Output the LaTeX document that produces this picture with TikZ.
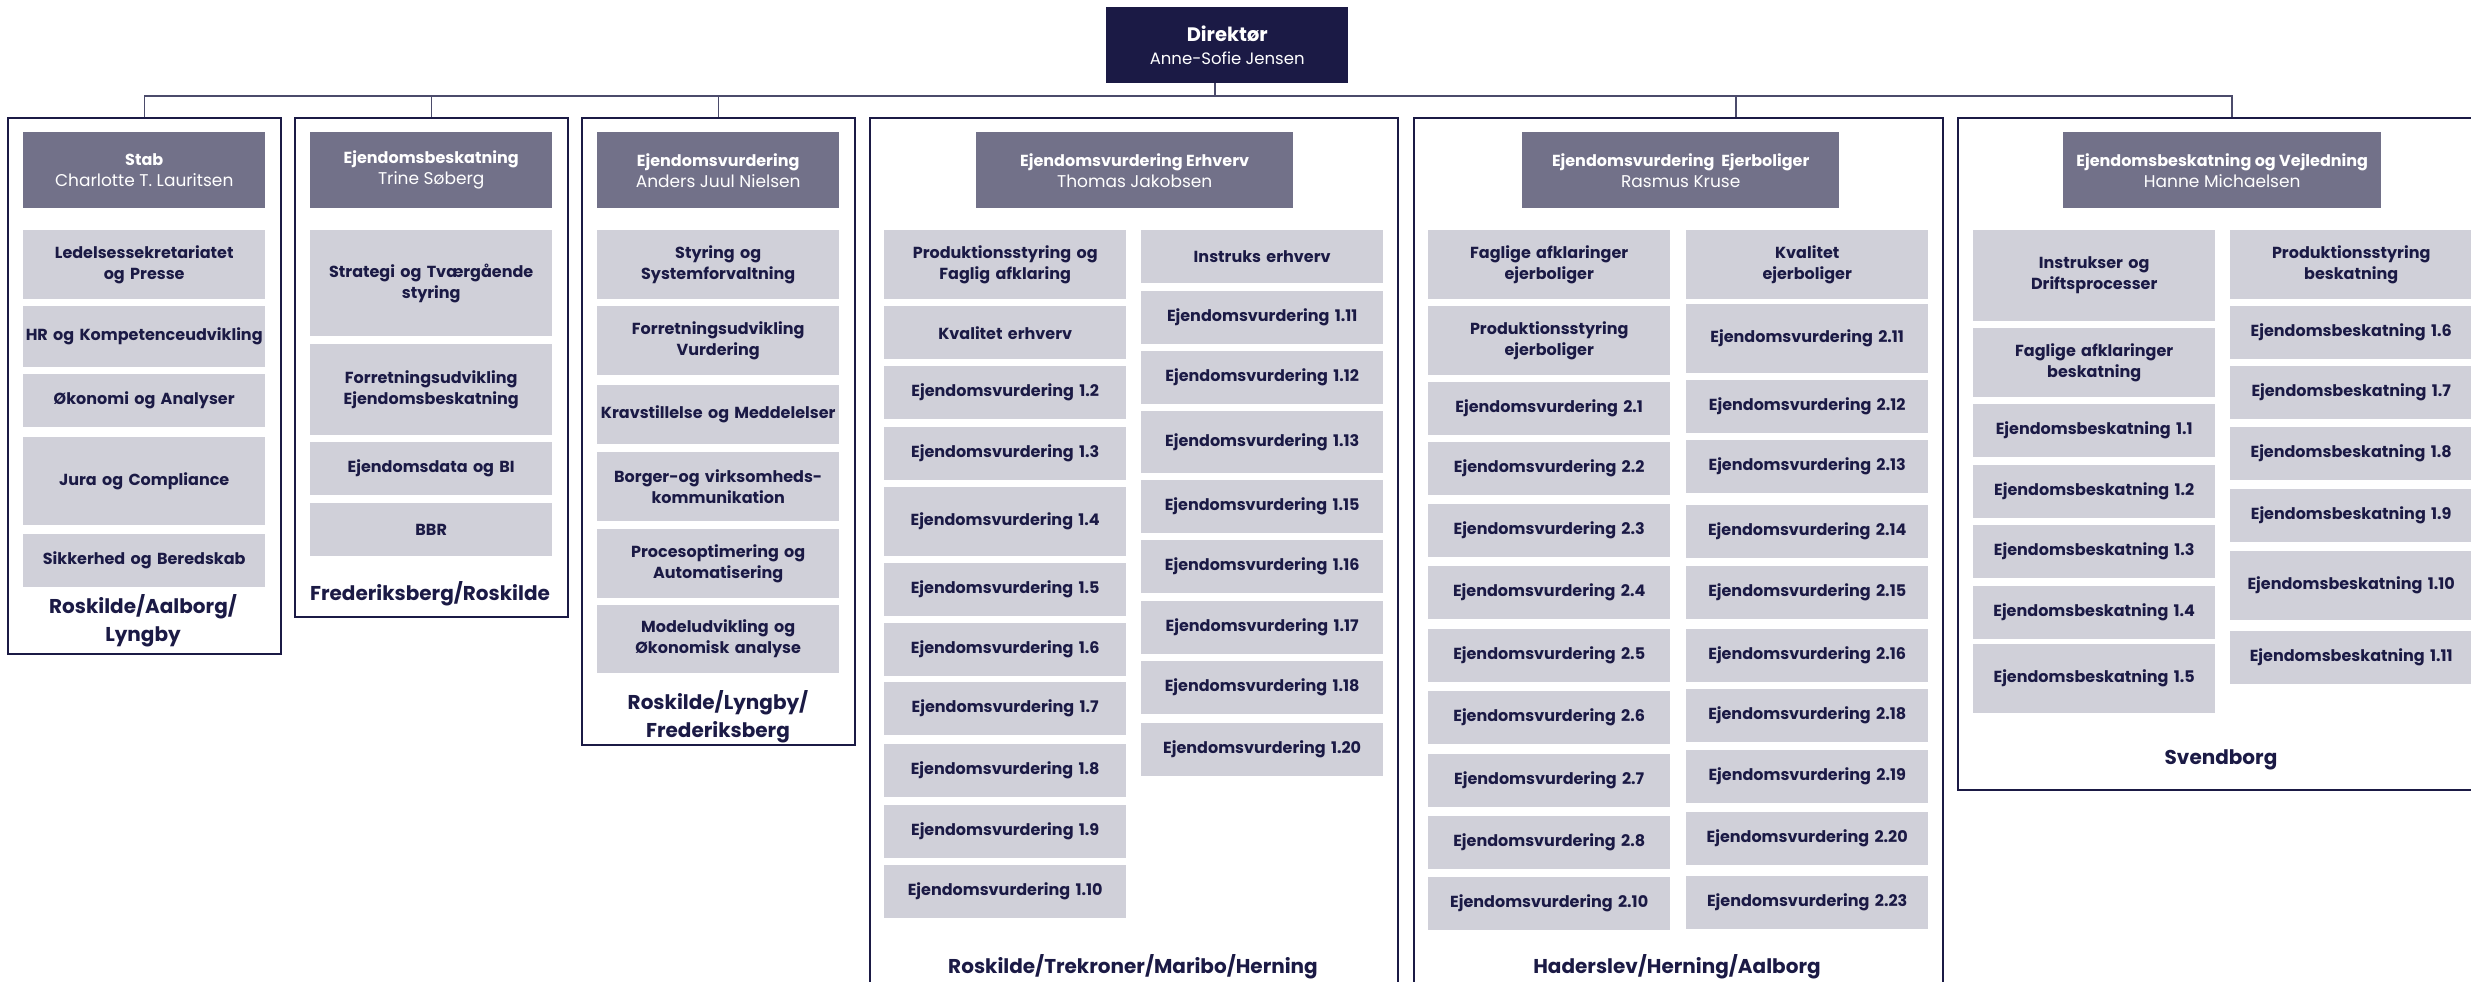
\documentclass[tikz,border=0pt]{standalone}
\usepackage{fontspec}
\setmainfont{Poppins}

\definecolor{navy}{HTML}{1B1A45}
\definecolor{headgray}{HTML}{727189}
\definecolor{itemgray}{HTML}{D0D0D9}
\definecolor{linegray}{HTML}{4B4B6B}

\begin{document}
\begin{tikzpicture}[x=1pt, y=-1pt,
  group/.style={draw=navy, line width=1.5pt, anchor=north west, inner sep=0pt},
  head/.style={fill=headgray, text=white, anchor=north west, minimum height=76pt,
    align=center, inner sep=0pt, font=\fontsize{17}{21}\selectfont},
  headline/.style={font=\bfseries\fontsize{16}{21}\selectfont},
  item/.style={fill=itemgray, text=navy, anchor=north west, text width=242pt,
    inner sep=0pt, align=center, font=\bfseries\fontsize{16}{21}\selectfont},
  place/.style={text=navy, align=center, font=\bfseries\fontsize{20}{28}\selectfont},
  link/.style={draw=linegray, line width=1.5pt}]

  \useasboundingbox (0,0) rectangle (2471,982);
  \clip (0,0) rectangle (2471,982);

  % --- Director ---
  \node[fill=navy, text=white, anchor=north west, minimum width=242pt,
    minimum height=76pt, align=center, inner sep=0pt,
    font=\fontsize{16.5}{23}\selectfont] (dir) at (1106,7)
    {{\bfseries\fontsize{19.5}{24}\selectfont Direktør}\\Anne-Sofie Jensen};

  % --- Group frames ---
  \node[group, minimum width=273pt, minimum height=536pt] (g1) at (7,117) {};
  \node[group, minimum width=273pt, minimum height=499pt] (g2) at (294,117) {};
  \node[group, minimum width=273pt, minimum height=627pt] (g3) at (581,117) {};
  \node[group, minimum width=528pt, minimum height=900pt] (g4) at (869,117) {};
  \node[group, minimum width=529pt, minimum height=900pt] (g5) at (1413,117) {};
  \node[group, minimum width=530pt, minimum height=672pt] (g6) at (1957,117) {};

  % --- Connectors ---
  \coordinate (busR) at (2232,96);
  \coordinate (tapD) at (1215,96);
  \coordinate (tap5) at (1736,96);
  \draw[link] (g1.north) -- (g1.north |- busR) -- (busR) -- (busR |- g6.north);
  \draw[link] (tapD |- dir.south) -- (tapD);
  \draw[link] (g2.north) -- (g2.north |- busR);
  \draw[link] (g3.north) -- (g3.north |- busR);
  \draw[link] (tap5) -- (tap5 |- g5.north);

  % --- Unit heads ---
  \node[head, minimum width=242pt] (h1) at (23,132) {{\bfseries\fontsize{16}{21}\selectfont Stab}\\Charlotte T. Lauritsen};
  \node[head, minimum width=242pt] (h2) at (310,132) {{\bfseries\fontsize{16}{21}\selectfont Ejendomsbeskatning}\\Trine Søberg};
  \node[head, minimum width=242pt] (h3) at (597,132) {{\bfseries\fontsize{16}{21}\selectfont Ejendomsvurdering}\\Anders Juul Nielsen};
  \node[head, minimum width=317pt] (h4) at (976,132) {{\bfseries\fontsize{16}{21}\selectfont Ejendomsvurdering Erhverv}\\Thomas Jakobsen};
  \node[head, minimum width=317pt] (h5) at (1522,132) {{\bfseries\fontsize{16}{21}\selectfont Ejendomsvurdering~ Ejerboliger}\\Rasmus Kruse};
  \node[head, minimum width=318pt] (h6) at (2063,132) {{\bfseries\fontsize{16}{21}\selectfont Ejendomsbeskatning og Vejledning}\\Hanne Michaelsen};

  % --- Stab ---
  \foreach \y/\h/\t [count=\i] in {230/69/{Ledelsessekretariatet\\og Presse},
      306/61/{HR og Kompetenceudvikling}, 374/53/{Økonomi og Analyser},
      437/88/{Jura og Compliance}, 534/53/{Sikkerhed og Beredskab}}
    \node[item, minimum height=\h*1pt] (stab-\i) at (23,\y) {\t};

  % --- Ejendomsbeskatning ---
  \foreach \y/\h/\t [count=\i] in {230/106/{Strategi og Tværgående\\styring},
      344/91/{Forretningsudvikling\\Ejendomsbeskatning},
      442/53/{Ejendomsdata og BI}, 503/53/{BBR}}
    \node[item, minimum height=\h*1pt] (bsk-\i) at (310,\y) {\t};

  % --- Ejendomsvurdering ---
  \foreach \y/\h/\t [count=\i] in {230/69/{Styring og\\Systemforvaltning},
      306/69/{Forretningsudvikling\\Vurdering}, 385/59/{Kravstillelse og Meddelelser},
      452/69/{Borger-og virksomheds-\\kommunikation},
      529/69/{Procesoptimering og\\Automatisering},
      605/68/{Modeludvikling og\\Økonomisk analyse}}
    \node[item, minimum height=\h*1pt] (vur-\i) at (597,\y) {\t};

  % --- Ejendomsvurdering Erhverv ---
  \foreach \y/\h/\t [count=\i] in {230/69/{Produktionsstyring og\\Faglig afklaring},
      306/53/{Kvalitet erhverv}, 366/53/{Ejendomsvurdering 1.2},
      427/53/{Ejendomsvurdering 1.3}, 487/69/{Ejendomsvurdering 1.4},
      563/53/{Ejendomsvurdering 1.5}, 623/53/{Ejendomsvurdering 1.6},
      682/53/{Ejendomsvurdering 1.7}, 744/53/{Ejendomsvurdering 1.8},
      805/53/{Ejendomsvurdering 1.9}, 865/53/{Ejendomsvurdering 1.10}}
    \node[item, minimum height=\h*1pt] (erhA-\i) at (884,\y) {\t};
  \foreach \y/\h/\t [count=\i] in {230/53/{Instruks erhverv},
      291/53/{Ejendomsvurdering 1.11}, 351/53/{Ejendomsvurdering 1.12},
      411/62/{Ejendomsvurdering 1.13}, 480/53/{Ejendomsvurdering 1.15},
      540/53/{Ejendomsvurdering 1.16}, 601/53/{Ejendomsvurdering 1.17},
      661/53/{Ejendomsvurdering 1.18}, 723/53/{Ejendomsvurdering 1.20}}
    \node[item, minimum height=\h*1pt] (erhB-\i) at (1141,\y) {\t};

  % --- Ejendomsvurdering Ejerboliger ---
  \foreach \y/\h/\t [count=\i] in {230/69/{Faglige afklaringer\\ejerboliger},
      306/69/{Produktionsstyring\\ejerboliger}, 382/53/{Ejendomsvurdering 2.1},
      442/53/{Ejendomsvurdering 2.2}, 504/53/{Ejendomsvurdering 2.3},
      566/53/{Ejendomsvurdering 2.4}, 629/53/{Ejendomsvurdering 2.5},
      691/53/{Ejendomsvurdering 2.6}, 754/53/{Ejendomsvurdering 2.7},
      816/53/{Ejendomsvurdering 2.8}, 877/53/{Ejendomsvurdering 2.10}}
    \node[item, minimum height=\h*1pt] (ejbA-\i) at (1428,\y) {\t};
  \foreach \y/\h/\t [count=\i] in {230/69/{Kvalitet\\ejerboliger},
      304/69/{Ejendomsvurdering 2.11}, 380/53/{Ejendomsvurdering 2.12},
      440/53/{Ejendomsvurdering 2.13}, 505/53/{Ejendomsvurdering 2.14},
      566/53/{Ejendomsvurdering 2.15}, 629/53/{Ejendomsvurdering 2.16},
      689/53/{Ejendomsvurdering 2.18}, 750/53/{Ejendomsvurdering 2.19},
      812/53/{Ejendomsvurdering 2.20}, 876/53/{Ejendomsvurdering 2.23}}
    \node[item, minimum height=\h*1pt] (ejbB-\i) at (1686,\y) {\t};

  % --- Ejendomsbeskatning og Vejledning ---
  \foreach \y/\h/\t [count=\i] in {230/91/{Instrukser og\\Driftsprocesser},
      328/69/{Faglige afklaringer\\beskatning}, 404/53/{Ejendomsbeskatning 1.1},
      465/53/{Ejendomsbeskatning 1.2}, 525/53/{Ejendomsbeskatning 1.3},
      586/53/{Ejendomsbeskatning 1.4}, 644/69/{Ejendomsbeskatning 1.5}}
    \node[item, minimum height=\h*1pt] (vejA-\i) at (1973,\y) {\t};
  \foreach \y/\h/\t [count=\i] in {230/69/{Produktionsstyring\\beskatning},
      306/53/{Ejendomsbeskatning 1.6}, 366/53/{Ejendomsbeskatning 1.7},
      427/53/{Ejendomsbeskatning 1.8}, 489/53/{Ejendomsbeskatning 1.9},
      551/69/{Ejendomsbeskatning 1.10}, 631/53/{Ejendomsbeskatning 1.11}}
    \node[item, minimum height=\h*1pt] (vejB-\i) at (2230,\y) {\t};

  % --- Locations ---
  \node[place] (p1) at (143,621) {Roskilde/Aalborg/\\Lyngby};
  \node[place] (p2) at (430,594) {Frederiksberg/Roskilde};
  \node[place] (p3) at (718,717) {Roskilde/Lyngby/\\Frederiksberg};
  \node[place] (p4) at (1133,967) {Roskilde/Trekroner/Maribo/Herning};
  \node[place] (p5) at (1677,967) {Haderslev/Herning/Aalborg};
  \node[place] (p6) at (2221,760) {Svendborg};

\end{tikzpicture}
\end{document}
